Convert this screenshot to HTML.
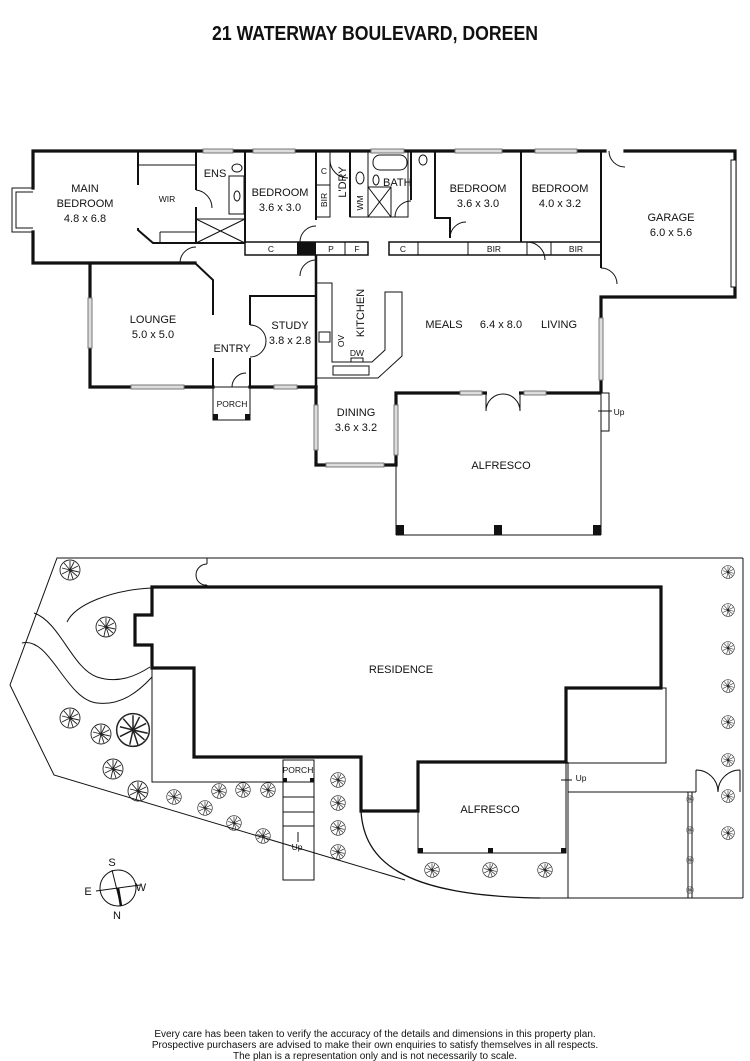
<!DOCTYPE html>
<html><head><meta charset="utf-8"><style>
html,body{margin:0;padding:0;background:#fff;}
svg{display:block;}
text{font-family:"Liberation Sans Narrow","Liberation Sans",sans-serif;fill:#111;}
.l{font-size:11px;text-anchor:middle;}
.s{font-size:8.5px;text-anchor:middle;}
.w{stroke:#111;stroke-width:3.2;fill:none;stroke-linecap:square;}
.t{stroke:#111;stroke-width:1;fill:none;}
.g{stroke:#777;stroke-width:1;fill:#ddd;}
.d{stroke:#111;stroke-width:1;fill:none;}
</style></head><body>
<svg width="750" height="1061" viewBox="0 0 750 1061" xmlns="http://www.w3.org/2000/svg">
<defs>
<symbol id="tr" viewBox="-11 -11 22 22" overflow="visible">
<g stroke="#222" stroke-width="0.9" fill="none"><circle r="10"/><path d="M0,0 L0,-9 M0,0 L8,-4 M0,0 L7,6 M0,0 L-2,9 M0,0 L-8,4 M0,0 L-6,-7 M0,0 L4,-8 M0,0 L9,2 M0,0 L-8,-2 M0,0 L3,9"/></g>
</symbol>
</defs>
<text x="375" y="40" textLength="326" lengthAdjust="spacingAndGlyphs" style="font-size:20px;font-weight:bold;text-anchor:middle">21 WATERWAY BOULEVARD, DOREEN</text>

<!-- ===== FLOOR PLAN ===== -->
<g>
<polyline class="w" points="33,188 33,151 605,151"/>
<polyline class="w" points="625,151 735,151 735,297 601,297 601,393 396,393 396,465 316,465 316,387"/>
<polyline class="w" points="33,232 33,263 195,263"/>
<polyline class="w" points="90,265 90,387 213,387"/>
<polyline class="w" points="250,387 316,387"/>
<polyline class="t" points="33,188 12,188 12,232 33,232"/>
<polyline class="t" points="33,192 16,192 16,228 33,228"/>
<polyline class="t" points="195,263 213,280 213,315" style="stroke-width:2"/>
<line class="t" x1="213" y1="358" x2="213" y2="387" style="stroke-width:2"/>
<line class="t" x1="138" y1="151" x2="138" y2="185" style="stroke-width:2"/>
<polyline class="t" points="138,228 138,230 153,243 245,243" style="stroke-width:2"/>
<line class="t" x1="138" y1="165" x2="196" y2="165"/>
<line class="t" x1="160" y1="232" x2="196" y2="232"/>
<line class="t" x1="160" y1="232" x2="160" y2="243"/>
<line class="t" x1="196" y1="151" x2="196" y2="190" style="stroke-width:2"/>
<line class="t" x1="196" y1="207" x2="196" y2="243" style="stroke-width:2"/>
<path class="d" d="M196,190 a18,18 0 0 1 16,18"/>
<rect class="t" x="196" y="219" width="49" height="24"/>
<line class="t" x1="196" y1="219" x2="245" y2="243"/><line class="t" x1="245" y1="219" x2="196" y2="243"/>
<rect class="t" x="229" y="176" width="15" height="38"/>
<ellipse class="t" cx="237" cy="196" rx="3" ry="5"/>
<ellipse class="t" cx="237" cy="168" rx="5" ry="4"/>
<line class="t" x1="245" y1="151" x2="245" y2="243" style="stroke-width:2"/>
<rect class="t" x="245" y="242" width="123" height="13" style="stroke-width:1.5"/>
<rect x="297" y="242" width="19" height="13" fill="#111"/>
<line class="t" x1="345" y1="242" x2="345" y2="255"/>
<rect class="t" x="389" y="242" width="212" height="13" style="stroke-width:1.5"/>
<line class="t" x1="418" y1="242" x2="418" y2="255"/>
<line class="t" x1="468" y1="242" x2="468" y2="255"/>
<line class="t" x1="527" y1="242" x2="527" y2="255"/>
<line class="t" x1="551" y1="242" x2="551" y2="255"/>
<path class="d" d="M527,242 a18,18 0 0 1 18,18"/>
<line class="t" x1="316" y1="151" x2="316" y2="220" style="stroke-width:2"/>
<path class="d" d="M300,242 a16,16 0 0 1 16,-16"/>
<rect class="t" x="316" y="151" width="14" height="66"/>
<line class="t" x1="316" y1="185" x2="330" y2="185"/>
<path class="d" d="M330,160 a18,18 0 0 0 18,18"/>
<line class="t" x1="350" y1="151" x2="350" y2="217" style="stroke-width:2"/>
<rect class="t" x="350" y="151" width="18" height="66"/>
<ellipse class="t" cx="360" cy="178" rx="4" ry="6"/>
<rect class="t" x="368" y="151" width="40" height="66"/>
<rect class="t" x="373" y="155" width="34" height="15" rx="7"/>
<rect class="t" x="368" y="187" width="23" height="30"/>
<line class="t" x1="368" y1="187" x2="391" y2="217"/><line class="t" x1="391" y1="187" x2="368" y2="217"/>
<ellipse class="t" cx="376" cy="180" rx="3" ry="5"/>
<ellipse class="t" cx="423" cy="160" rx="4" ry="5"/>
<path class="d" d="M395,217 a16,16 0 0 1 16,-16"/>
<polyline class="t" points="411,200 411,151" style="stroke-width:2"/>
<polyline class="t" points="435,151 435,218 450,218 450,238" style="stroke-width:2"/>
<path class="d" d="M450,238 a16,16 0 0 1 16,-16"/>
<line class="t" x1="521" y1="151" x2="521" y2="242" style="stroke-width:2"/>
<line class="t" x1="601" y1="151" x2="601" y2="268" style="stroke-width:2"/>
<path class="d" d="M601,268 a16,16 0 0 1 16,16"/>
<path class="d" d="M609,151 a16,16 0 0 0 16,16"/>
<rect class="t" x="731" y="160" width="5" height="127" style="fill:#fff"/>
<path class="d" d="M180,263 a16,16 0 0 1 16,-16"/>
<path class="d" d="M300,276 a16,16 0 0 1 16,-16"/>
<polyline class="t" points="316,255 316,387" style="stroke-width:2.5"/>
<polyline class="t" points="250,387 250,358" style="stroke-width:2"/>
<polyline class="t" points="250,325 250,296 316,296" style="stroke-width:2"/>
<path class="d" d="M250,325 a16,16 0 0 1 16,16 a16,16 0 0 1 -16,16"/>
<path class="d" d="M232,387 a14,14 0 0 1 14,-14"/>
<rect class="t" x="213" y="387" width="37" height="33"/>
<rect x="213" y="414" width="5" height="6" fill="#111"/><rect x="245" y="414" width="5" height="6" fill="#111"/>
<polyline class="t" points="316,283 332,283 332,362 372,362 385,350 385,292 402,292 402,356 378,378 316,378"/>
<rect class="t" x="319" y="332" width="11" height="10"/>
<rect class="t" x="333" y="366" width="36" height="9"/>
<rect class="t" x="351" y="358" width="12" height="4"/>
<line class="t" x1="396" y1="393" x2="396" y2="535"/>
<line class="t" x1="601" y1="393" x2="601" y2="535"/>
<line class="t" x1="396" y1="535" x2="601" y2="535"/>
<rect x="396" y="525" width="8" height="10" fill="#111"/><rect x="494" y="525" width="8" height="10" fill="#111"/><rect x="593" y="525" width="8" height="10" fill="#111"/>
<rect class="t" x="601" y="393" width="8" height="38" style="fill:#fff"/>
<line class="t" x1="598" y1="411" x2="612" y2="411"/>
<rect x="487" y="391" width="32" height="5" fill="#fff"/>
<path class="d" d="M486,393 l0,18 M520,393 l0,18 M486,411 a17,17 0 0 1 17,-17 M520,411 a17,17 0 0 0 -17,-17"/>
<g class="g">
<rect x="203" y="149" width="30" height="4"/><rect x="253" y="149" width="42" height="4"/>
<rect x="371" y="149" width="33" height="4"/><rect x="455" y="149" width="47" height="4"/><rect x="535" y="149" width="42" height="4"/>
<rect x="88" y="298" width="4" height="50"/><rect x="131" y="385" width="53" height="4"/>
<rect x="274" y="385" width="23" height="4"/>
<rect x="314" y="405" width="4" height="45"/><rect x="394" y="405" width="4" height="50"/>
<rect x="326" y="463" width="58" height="4"/>
<rect x="460" y="391" width="22" height="4"/><rect x="524" y="391" width="22" height="4"/>
<rect x="599" y="318" width="4" height="62"/>
</g>
<text class="l" x="85" y="192">MAIN</text><text class="l" x="85" y="207">BEDROOM</text><text class="l" x="85" y="222">4.8 x 6.8</text>
<text class="s" x="167" y="202">WIR</text>
<text class="l" x="215" y="177">ENS</text>
<text class="l" x="280" y="196">BEDROOM</text><text class="l" x="280" y="211">3.6 x 3.0</text>
<text class="s" x="324" y="174">C</text>
<text class="s" transform="translate(327,200) rotate(-90)">BIR</text>
<text class="l" transform="translate(346,182) rotate(-90)">L'DRY</text>
<text class="s" transform="translate(363,203) rotate(-90)">WM</text>
<text class="l" x="383" y="186" style="text-anchor:start">BATH</text>
<text class="l" x="478" y="192">BEDROOM</text><text class="l" x="478" y="207">3.6 x 3.0</text>
<text class="l" x="560" y="192">BEDROOM</text><text class="l" x="560" y="207">4.0 x 3.2</text>
<text class="l" x="671" y="221">GARAGE</text><text class="l" x="671" y="236">6.0 x 5.6</text>
<text class="s" x="271" y="252">C</text><text class="s" x="331" y="252">P</text><text class="s" x="357" y="252">F</text>
<text class="s" x="403" y="252">C</text><text class="s" x="494" y="252">BIR</text><text class="s" x="576" y="252">BIR</text>
<text class="l" x="153" y="323">LOUNGE</text><text class="l" x="153" y="338">5.0 x 5.0</text>
<text class="l" x="290" y="329">STUDY</text><text class="l" x="290" y="344">3.8 x 2.8</text>
<text class="l" x="232" y="352">ENTRY</text>
<text class="s" x="232" y="407">PORCH</text>
<text class="l" transform="translate(364,313) rotate(-90)">KITCHEN</text>
<text class="s" transform="translate(344,341) rotate(-90)">OV</text>
<text class="s" x="357" y="356">DW</text>
<text class="l" x="444" y="328">MEALS</text><text class="l" x="501" y="328">6.4 x 8.0</text><text class="l" x="559" y="328">LIVING</text>
<text class="l" x="356" y="416">DINING</text><text class="l" x="356" y="431">3.6 x 3.2</text>
<text class="l" x="501" y="469">ALFRESCO</text>
<text class="s" x="619" y="415">Up</text>
</g>

<!-- ===== SITE PLAN ===== -->
<g>
<polyline class="t" points="743,558 57,558 10,685 54,775 405,880"/>
<line class="t" x1="743" y1="558" x2="743" y2="898"/>
<line class="t" x1="540" y1="898" x2="743" y2="898"/>
<path class="t" d="M361,811 C364,860 400,896 540,898" style="stroke-width:1.3"/>
<path class="d" d="M207,558 l0,6 M207,585 l0,2 M207,564 a11,11 0 0 0 -11,11 M196,575 a10,10 0 0 0 11,10"/>
<path class="t" d="M152,588 C110,590 75,605 67,622"/>
<path class="t" d="M34,613 C60,622 72,668 97,677 C118,684 136,676 150,667"/>
<path class="t" d="M22,643 C50,636 66,700 97,703 C122,706 140,690 152,677"/>
<polyline class="t" points="152,668 152,782 283,782"/>
<rect class="t" x="283" y="760" width="31" height="120"/>
<line class="t" x1="283" y1="782" x2="314" y2="782"/>
<line class="t" x1="283" y1="797" x2="314" y2="797"/>
<line class="t" x1="283" y1="812" x2="314" y2="812"/>
<line class="t" x1="283" y1="826" x2="314" y2="826"/>
<rect x="283" y="778" width="4" height="4" fill="#111"/><rect x="310" y="778" width="4" height="4" fill="#111"/>
<line class="t" x1="298" y1="842" x2="298" y2="832"/>
<rect class="t" x="566" y="688" width="100" height="75"/>
<line class="t" x1="568" y1="762" x2="568" y2="898"/>
<line class="t" x1="568" y1="792" x2="696" y2="792"/>
<line class="t" x1="688" y1="792" x2="688" y2="898"/>
<line class="t" x1="692" y1="792" x2="692" y2="898"/>
<path class="d" d="M696,792 l0,-22 M740,792 l0,-22 M696,770 a22,22 0 0 1 22,22 M740,770 a22,22 0 0 0 -22,22"/>
<line class="t" x1="561" y1="780" x2="572" y2="780"/>
<polygon points="152,587 661,587 661,688 566,688 566,762 418,762 418,811 361,811 361,757 194,757 194,668 152,668 152,645 135,645 135,615 152,615" fill="none" stroke="#111" stroke-width="3.2"/>
<rect class="t" x="418" y="762" width="148" height="91"/>
<rect x="418" y="848" width="5" height="5" fill="#111"/><rect x="488" y="848" width="5" height="5" fill="#111"/><rect x="561" y="848" width="5" height="5" fill="#111"/>
<text class="l" x="401" y="673">RESIDENCE</text>
<text class="l" x="490" y="813">ALFRESCO</text>
<text class="s" x="298" y="773">PORCH</text>
<text class="s" x="297" y="850">Up</text>
<text class="s" x="581" y="781">Up</text>
<use href="#tr" x="59" y="559" width="22" height="22"/>
<use href="#tr" x="95" y="616" width="22" height="22"/>
<use href="#tr" x="59" y="707" width="22" height="22"/>
<use href="#tr" x="90" y="723" width="22" height="22"/>
<use href="#tr" x="115" y="712" width="36" height="36"/>
<use href="#tr" x="102" y="758" width="22" height="22"/>
<use href="#tr" x="127" y="780" width="22" height="22"/>
<use href="#tr" x="166" y="789" width="16" height="16"/>
<use href="#tr" x="211" y="783" width="16" height="16"/>
<use href="#tr" x="235" y="782" width="16" height="16"/>
<use href="#tr" x="260" y="782" width="16" height="16"/>
<use href="#tr" x="197" y="800" width="16" height="16"/>
<use href="#tr" x="226" y="815" width="16" height="16"/>
<use href="#tr" x="255" y="828" width="16" height="16"/>
<use href="#tr" x="330" y="772" width="16" height="16"/>
<use href="#tr" x="330" y="795" width="16" height="16"/>
<use href="#tr" x="330" y="820" width="16" height="16"/>
<use href="#tr" x="330" y="844" width="16" height="16"/>
<use href="#tr" x="424" y="862" width="16" height="16"/>
<use href="#tr" x="482" y="862" width="16" height="16"/>
<use href="#tr" x="537" y="862" width="16" height="16"/>
<use href="#tr" x="721" y="565" width="14" height="14"/>
<use href="#tr" x="721" y="603" width="14" height="14"/>
<use href="#tr" x="721" y="641" width="14" height="14"/>
<use href="#tr" x="721" y="679" width="14" height="14"/>
<use href="#tr" x="721" y="715" width="14" height="14"/>
<use href="#tr" x="721" y="753" width="14" height="14"/>
<use href="#tr" x="721" y="789" width="14" height="14"/>
<use href="#tr" x="721" y="826" width="14" height="14"/>
<use href="#tr" x="686" y="795" width="8" height="8"/>
<use href="#tr" x="686" y="826" width="8" height="8"/>
<use href="#tr" x="686" y="856" width="8" height="8"/>
<use href="#tr" x="686" y="886" width="8" height="8"/>
<circle cx="118" cy="888" r="18" class="t"/>
<line class="t" x1="112" y1="870" x2="121" y2="906"/>
<line x1="118" y1="888" x2="121" y2="906" stroke="#111" stroke-width="2.5"/>
<line class="t" x1="96" y1="891" x2="140" y2="885"/>
<text class="l" x="112" y="866">S</text>
<text class="l" x="88" y="895">E</text>
<text class="l" x="141" y="891">W</text>
<text class="l" x="117" y="919">N</text>
</g>

<g style="font-size:10px;text-anchor:middle">
<text x="375" y="1037" style="font-family:'Liberation Sans',sans-serif">Every care has been taken to verify the accuracy of the details and dimensions in this property plan.</text>
<text x="375" y="1048" style="font-family:'Liberation Sans',sans-serif">Prospective purchasers are advised to make their own enquiries to satisfy themselves in all respects.</text>
<text x="375" y="1059" style="font-family:'Liberation Sans',sans-serif">The plan is a representation only and is not necessarily to scale.</text>
</g>
</svg>
</body></html>
